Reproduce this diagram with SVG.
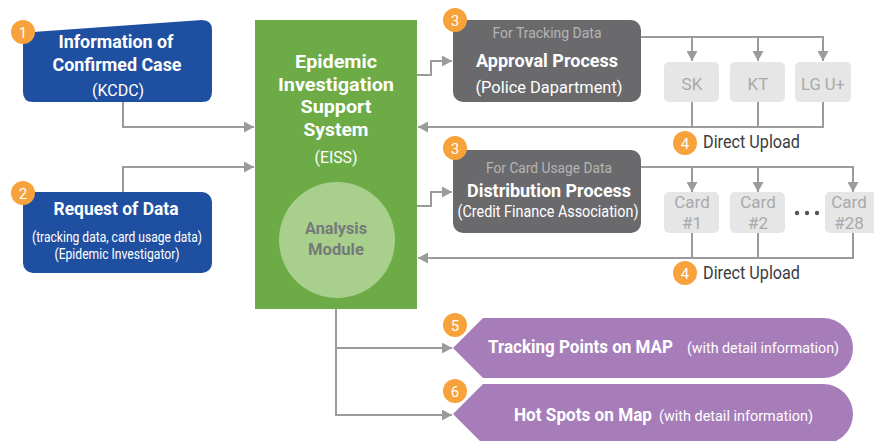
<svg xmlns="http://www.w3.org/2000/svg" width="874" height="441" viewBox="0 0 874 441">
<defs>
<marker id="ah" markerUnits="userSpaceOnUse" markerWidth="11" markerHeight="11" refX="10" refY="5.5" orient="auto">
<path d="M0,0 L10,5.5 L0,11 Z" fill="#9b9b9b"/>
</marker>
<style>
text{font-family:Roboto,"Liberation Sans",sans-serif}
.w{fill:#ffffff}
.b{font-weight:bold}
.c{text-anchor:middle}
.badge{fill:#f7a23b}
.bt{fill:#ffffff;font-size:15px;text-anchor:middle}
.blue{fill:#1f4fa0}
.gray{fill:#6a6a6d}
.lt{fill:#e6e6e6}
.ltx{fill:#a9a9a9;font-size:17px;text-anchor:middle}
.pur{fill:#a67db8}
.cn{fill:none;stroke:#9b9b9b;stroke-width:2}
.up{fill:#3c3c3c;font-size:17.5px}
</style>
</defs>
<rect width="874" height="441" fill="#ffffff"/>

<g id="connectors">
<path class="cn" d="M123,102 V127 H254" marker-end="url(#ah)"/>
<path class="cn" d="M123,192 V167 H254" marker-end="url(#ah)"/>
<path class="cn" d="M417,75 H431 V61 H452" marker-end="url(#ah)"/>
<path class="cn" d="M417,206 H431 V192 H452" marker-end="url(#ah)"/>
<path class="cn" d="M641,37 H823 V61" marker-end="url(#ah)"/>
<path class="cn" d="M692,37 V61" marker-end="url(#ah)"/>
<path class="cn" d="M758,37 V61" marker-end="url(#ah)"/>
<path class="cn" d="M692,102 V127"/>
<path class="cn" d="M758,102 V127"/>
<path class="cn" d="M823,102 V127 H418" marker-end="url(#ah)"/>
<path class="cn" d="M641,167 H853 V192" marker-end="url(#ah)"/>
<path class="cn" d="M692,167 V192" marker-end="url(#ah)"/>
<path class="cn" d="M758,167 V192" marker-end="url(#ah)"/>
<path class="cn" d="M692,233 V258"/>
<path class="cn" d="M758,233 V258"/>
<path class="cn" d="M853,233 V258 H418" marker-end="url(#ah)"/>
<path class="cn" d="M336,309 V415 H452" marker-end="url(#ah)"/>
<path class="cn" d="M336,348 H452" marker-end="url(#ah)"/>
</g>

<g id="confirmed-case">
<path class="blue" d="M33,32 L202,20 Q212,20 212,30 V92 Q212,102 202,102 H33 Q23,102 23,92 V42 Q23,32 33,32 Z"/>
<circle class="badge" cx="23" cy="32" r="12"/>
<text class="bt" x="23" y="37.5">1</text>
<text class="w b c" x="116" y="48" font-size="18" textLength="115" lengthAdjust="spacingAndGlyphs">Information of</text>
<text class="w b c" x="117" y="71" font-size="18" textLength="129" lengthAdjust="spacingAndGlyphs">Confirmed Case</text>
<text class="w c" x="118" y="96" font-size="16" textLength="52" lengthAdjust="spacingAndGlyphs">(KCDC)</text>
</g>

<g id="request-data">
<rect class="blue" x="23" y="192" width="189" height="81" rx="10"/>
<circle class="badge" cx="23" cy="193" r="12"/>
<text class="bt" x="23" y="198.5">2</text>
<text class="w b c" x="116" y="215" font-size="18" textLength="125" lengthAdjust="spacingAndGlyphs">Request of Data</text>
<text class="w c" x="117" y="242" font-size="15.5" textLength="170" lengthAdjust="spacingAndGlyphs">(tracking data, card usage data)</text>
<text class="w c" x="117" y="259" font-size="15.5" textLength="125" lengthAdjust="spacingAndGlyphs">(Epidemic Investigator)</text>
</g>

<g id="eiss">
<rect x="255" y="20" width="162" height="289" fill="#6cab46"/>
<text class="w b c" x="336" y="68" font-size="18" textLength="82" lengthAdjust="spacingAndGlyphs">Epidemic</text>
<text class="w b c" x="336" y="91" font-size="18" textLength="116" lengthAdjust="spacingAndGlyphs">Investigation</text>
<text class="w b c" x="336" y="113" font-size="18" textLength="71" lengthAdjust="spacingAndGlyphs">Support</text>
<text class="w b c" x="336" y="136" font-size="18" textLength="65" lengthAdjust="spacingAndGlyphs">System</text>
<text class="w c" x="336" y="163" font-size="16" textLength="43" lengthAdjust="spacingAndGlyphs">(EISS)</text>
<circle cx="337" cy="240" r="58" fill="#a9cf8d"/>
<text class="b c" x="336" y="234" font-size="17" fill="#76797a" textLength="62" lengthAdjust="spacingAndGlyphs">Analysis</text>
<text class="b c" x="336" y="255" font-size="17" fill="#76797a" textLength="56" lengthAdjust="spacingAndGlyphs">Module</text>
</g>

<g id="approval">
<rect class="gray" x="453" y="20" width="188" height="82" rx="10"/>
<circle class="badge" cx="455" cy="20" r="12"/>
<text class="bt" x="455" y="25.5">3</text>
<text class="c" x="547" y="38" font-size="14.5" fill="#b5b5b5" textLength="109" lengthAdjust="spacingAndGlyphs">For Tracking Data</text>
<text class="w b c" x="547" y="67" font-size="18" textLength="142" lengthAdjust="spacingAndGlyphs">Approval Process</text>
<text class="w c" x="549" y="93" font-size="17" textLength="147" lengthAdjust="spacingAndGlyphs">(Police Dapartment)</text>
</g>

<g id="sk">
<rect class="lt" x="664" y="62" width="55" height="40" rx="5"/>
<text class="ltx" x="692" y="90">SK</text>
</g>
<g id="kt">
<rect class="lt" x="730" y="62" width="55" height="40" rx="5"/>
<text class="ltx" x="758" y="90">KT</text>
</g>
<g id="lgu">
<rect class="lt" x="795" y="62" width="56" height="40" rx="5"/>
<text class="ltx" x="823" y="90" textLength="44" lengthAdjust="spacingAndGlyphs">LG U+</text>
</g>

<g id="upload-1">
<circle class="badge" cx="685" cy="143" r="12"/>
<text class="bt" x="685" y="148.5">4</text>
<text class="up" x="703" y="148" textLength="97" lengthAdjust="spacingAndGlyphs">Direct Upload</text>
</g>

<g id="distribution">
<rect class="gray" x="453" y="150" width="188" height="83" rx="10"/>
<circle class="badge" cx="455" cy="148" r="12"/>
<text class="bt" x="455" y="153.5">3</text>
<text class="c" x="549" y="173" font-size="14.5" fill="#b5b5b5" textLength="126" lengthAdjust="spacingAndGlyphs">For Card Usage Data</text>
<text class="w b c" x="549" y="197" font-size="18" textLength="164" lengthAdjust="spacingAndGlyphs">Distribution Process</text>
<text class="w c" x="548" y="217" font-size="17" textLength="181" lengthAdjust="spacingAndGlyphs">(Credit Finance Association)</text>
</g>

<g id="card1">
<rect class="lt" x="664" y="192" width="55" height="41" rx="5"/>
<text class="ltx" x="692" y="208">Card</text>
<text class="ltx" x="692" y="229">#1</text>
</g>
<g id="card2">
<rect class="lt" x="730" y="192" width="55" height="41" rx="5"/>
<text class="ltx" x="758" y="208">Card</text>
<text class="ltx" x="758" y="229">#2</text>
</g>
<g id="dots">
<circle cx="797" cy="213" r="2.2" fill="#555"/>
<circle cx="807" cy="213" r="2.2" fill="#555"/>
<circle cx="817" cy="213" r="2.2" fill="#555"/>
</g>
<g id="card28">
<rect class="lt" x="825" y="192" width="60" height="41" rx="5"/>
<text class="ltx" x="849" y="208">Card</text>
<text class="ltx" x="849" y="229">#28</text>
</g>

<g id="upload-2">
<circle class="badge" cx="685" cy="273" r="12"/>
<text class="bt" x="685" y="278.5">4</text>
<text class="up" x="703" y="279" textLength="97" lengthAdjust="spacingAndGlyphs">Direct Upload</text>
</g>

<g id="tracking-points">
<path class="pur" d="M453,348 L483,318 H823 A30,30 0 0 1 823,378 H483 Z"/>
<circle class="badge" cx="455" cy="325" r="12"/>
<text class="bt" x="455" y="330.5">5</text>
<text class="w b" x="488" y="353" font-size="18" textLength="185" lengthAdjust="spacingAndGlyphs">Tracking Points on MAP</text>
<text class="w" x="687" y="353" font-size="15" textLength="152" lengthAdjust="spacingAndGlyphs">(with detail information)</text>
</g>

<g id="hot-spots">
<path class="pur" d="M453,414 L483,384 H823 A30,30 0 0 1 823,444 H483 Z"/>
<circle class="badge" cx="455" cy="391" r="12"/>
<text class="bt" x="455" y="396.5">6</text>
<text class="w b" x="514" y="421" font-size="18" textLength="138" lengthAdjust="spacingAndGlyphs">Hot Spots on Map</text>
<text class="w" x="659" y="421" font-size="15" textLength="154" lengthAdjust="spacingAndGlyphs">(with detail information)</text>
</g>
</svg>
